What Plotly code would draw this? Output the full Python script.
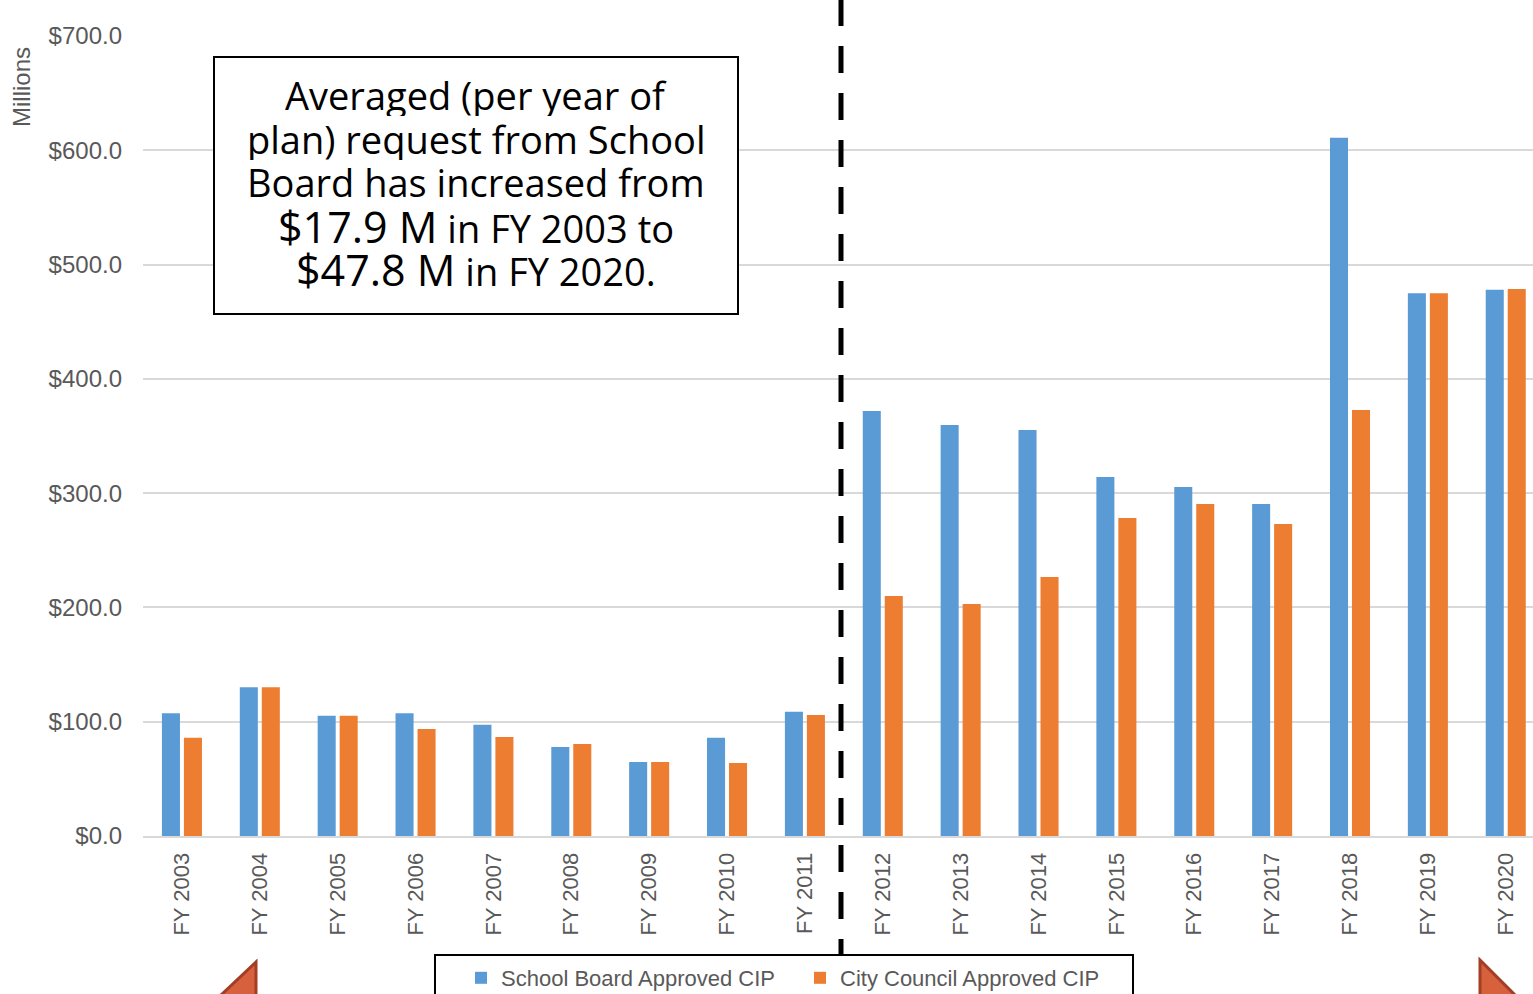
import plotly.graph_objects as go

years = ["FY 2003", "FY 2004", "FY 2005", "FY 2006", "FY 2007", "FY 2008", "FY 2009",
         "FY 2010", "FY 2011", "FY 2012", "FY 2013", "FY 2014", "FY 2015", "FY 2016",
         "FY 2017", "FY 2018", "FY 2019", "FY 2020"]
school_board = [107.3, 130.1, 105.3, 107.3, 97.4, 77.9, 64.7, 86.0, 108.8,
                371.9, 359.6, 355.2, 314.1, 305.4, 290.5, 611.0, 474.8, 478.0]
city_council = [85.9, 130.1, 105.3, 93.6, 86.6, 80.5, 64.7, 63.9, 105.9,
                210.0, 203.0, 226.6, 278.2, 290.5, 273.0, 372.7, 474.8, 478.6]
y_ticks = [0, 100, 200, 300, 400, 500, 600, 700]
y_tick_text = ["$%.1f" % v for v in y_ticks]

W, H = 1533, 994
L, R, T, B = 143, 0, 36, 158
PW, PH = W - L - R, H - T - B


def px(xp):
    return (xp - L) / PW


def py(yp):
    return (H - B - yp) / PH


GRAY = "#595959"
TICKFONT = "Liberation Sans, Arial, sans-serif"
BOXFONT = "Open Sans, Lato, sans-serif"

fig = go.Figure()
fig.add_trace(go.Bar(x=years, y=school_board, name="School Board Approved CIP",
                     marker=dict(color="#5B9BD5", line=dict(width=0))))
fig.add_trace(go.Bar(x=years, y=city_council, name="City Council Approved CIP",
                     marker=dict(color="#ED7D31", line=dict(width=0))))

shapes = []
# dashed vertical divider
shapes.append(dict(type="line", xref="paper", yref="paper",
                   x0=px(841), x1=px(841), y0=py(-1), y1=py(955),
                   line=dict(color="black", width=5, dash="27px,20px"), layer="above"))
# text box border
shapes.append(dict(type="rect", xref="paper", yref="paper",
                   x0=px(214), x1=px(738), y0=py(57), y1=py(314),
                   line=dict(color="black", width=2), fillcolor="white", layer="above"))
# legend frame
shapes.append(dict(type="rect", xref="paper", yref="paper",
                   x0=px(435), x1=px(1133), y0=py(955), y1=py(1004),
                   line=dict(color="black", width=2), fillcolor="white", layer="above"))
# decorative triangles at bottom
shapes.append(dict(type="path", xref="paper", yref="paper",
                   path=f"M {px(220)} {py(996)} L {px(256)} {py(962)} L {px(256)} {py(996)} Z",
                   fillcolor="#D7603D", line=dict(color="#A23E25", width=3), layer="above"))
shapes.append(dict(type="path", xref="paper", yref="paper",
                   path=f"M {px(1480)} {py(960)} L {px(1516)} {py(996)} L {px(1480)} {py(996)} Z",
                   fillcolor="#D7603D", line=dict(color="#A23E25", width=3), layer="above"))

annotations = []
annotations.append(dict(text="Millions", xref="paper", yref="paper", x=px(22), y=py(87),
                        xanchor="center", yanchor="middle",
                        textangle=-90, showarrow=False,
                        font=dict(family=TICKFONT, size=24, color=GRAY)))
box_lines = [
    ("Averaged (per year of", 95, 38),
    ("plan) request from School", 139, 38),
    ("Board has increased from", 182, 38),
    ("$17.9 M<span style='font-size:38px'> in FY 2003 to</span>", 226, 43),
    ("$47.8 M<span style='font-size:38px'> in FY 2020.</span>", 269, 43),
]
for txt, yc, fs in box_lines:
    annotations.append(dict(text=txt, xref="paper", yref="paper", x=px(476), y=py(yc),
                            xanchor="center", yanchor="middle", showarrow=False,
                            height=42, borderpad=0,
                            font=dict(family=BOXFONT, size=fs, color="black")))

fig.update_layout(
    width=W, height=H,
    margin=dict(l=L, r=R, t=T, b=B, autoexpand=False),
    paper_bgcolor="white", plot_bgcolor="white",
    barmode="group", bargap=0.435, bargroupgap=0.18,
    shapes=shapes, annotations=annotations,
    legend=dict(orientation="h", xref="container", yref="container",
                x=461 / W, xanchor="left", y=1 - 957 / H, yanchor="top",
                borderwidth=0, bgcolor="rgba(0,0,0,0)",
                font=dict(family=TICKFONT, size=22, color=GRAY),
                entrywidth=294, entrywidthmode="pixels", itemwidth=30,
                traceorder="normal"),
    xaxis=dict(type="category", range=[-0.5, 17.35], showgrid=False,
               showline=True, linecolor="#D9D9D9", linewidth=2,
               tickangle=-90, ticks="", ticklabelstandoff=6,
               tickfont=dict(family=TICKFONT, size=22, color=GRAY)),
    yaxis=dict(range=[0, 700], tickvals=y_ticks, ticktext=y_tick_text,
               showgrid=True, gridcolor="#D9D9D9", gridwidth=2, zeroline=False,
               showline=False, ticks="", ticklabelstandoff=20,
               tickfont=dict(family=TICKFONT, size=24, color=GRAY)),
)

fig.write_html("out.html")
